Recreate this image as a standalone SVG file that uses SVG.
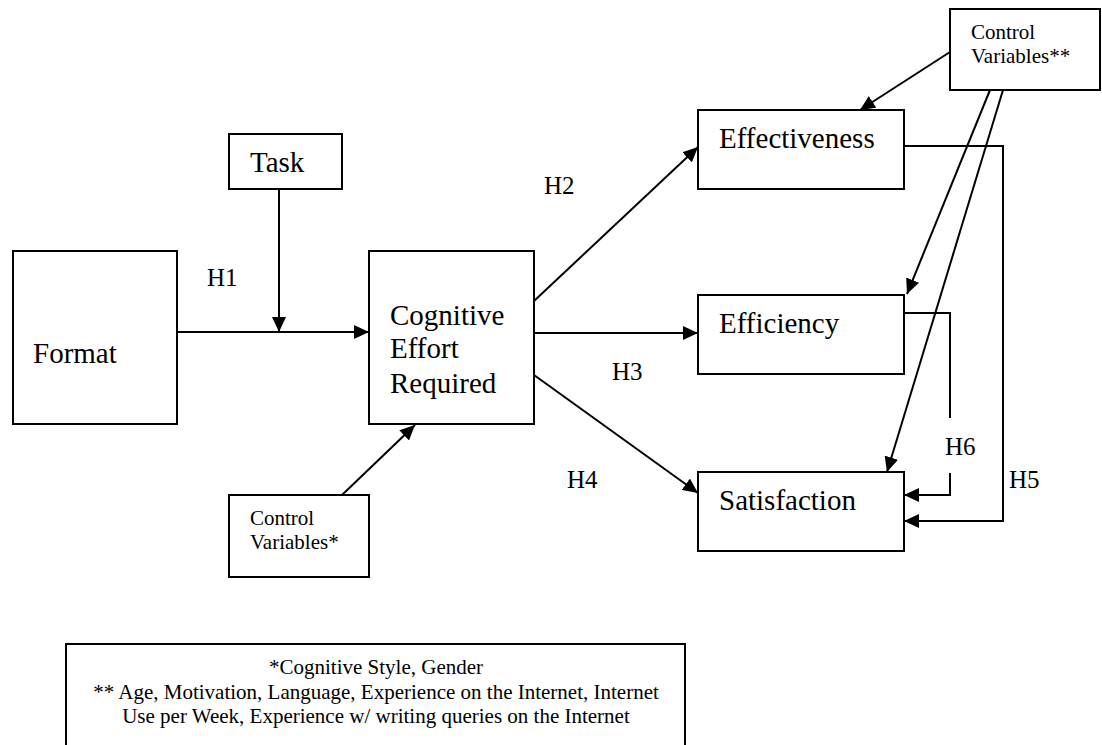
<svg xmlns="http://www.w3.org/2000/svg" width="1102" height="745" viewBox="0 0 1102 745">
  <style>
    .box { fill: #fff; stroke: #000; stroke-width: 2; }
    .edge { fill: none; stroke: #000; stroke-width: 2; }
    text { font-family: 'Liberation Serif', 'Times New Roman', serif; fill: #000; }
    .big { font-size: 29px; }
    .hyp { font-size: 25px; }
    .small { font-size: 21px; }
  </style>
  <defs>
    <marker id="arrow" markerUnits="userSpaceOnUse" markerWidth="16" markerHeight="14" refX="15" refY="7" orient="auto">
      <path d="M0,0 L15,7 L0,14 Z" fill="#000"/>
    </marker>
  </defs>
  <rect width="1102" height="745" fill="#fff"/>

  <g id="format">
    <rect class="box" x="13" y="251" width="164" height="173"/>
    <text class="big" x="33" y="363">Format</text>
  </g>

  <g id="task">
    <rect class="box" x="229" y="134" width="113" height="55"/>
    <text class="big" x="250" y="172">Task</text>
  </g>

  <g id="cognitive-effort">
    <rect class="box" x="369" y="251" width="165" height="173"/>
    <text class="big" x="390" y="325">Cognitive</text>
    <text class="big" x="390" y="358">Effort</text>
    <text class="big" x="390" y="393">Required</text>
  </g>

  <g id="control-variables-1">
    <rect class="box" x="229" y="495" width="140" height="82"/>
    <text class="small" x="250" y="525">Control</text>
    <text class="small" x="250" y="549">Variables*</text>
  </g>

  <g id="effectiveness">
    <rect class="box" x="698" y="110" width="206" height="79"/>
    <text class="big" x="719" y="148">Effectiveness</text>
  </g>

  <g id="efficiency">
    <rect class="box" x="698" y="295" width="206" height="79"/>
    <text class="big" x="719" y="333">Efficiency</text>
  </g>

  <g id="satisfaction">
    <rect class="box" x="698" y="472" width="206" height="79"/>
    <text class="big" x="719" y="510">Satisfaction</text>
  </g>

  <g id="control-variables-2">
    <rect class="box" x="950" y="9" width="150" height="81"/>
    <text class="small" x="971" y="39">Control</text>
    <text class="small" x="971" y="63">Variables**</text>
  </g>

  <g id="connectors">
    <!-- H1: Format to Cognitive Effort, moderated by Task -->
    <line class="edge" x1="177" y1="332" x2="369" y2="332" marker-end="url(#arrow)"/>
    <line class="edge" x1="279" y1="189" x2="279" y2="332" marker-end="url(#arrow)"/>
    <line class="edge" x1="342" y1="495" x2="415" y2="425" marker-end="url(#arrow)"/>
    <!-- H2 to H4 -->
    <line class="edge" x1="534" y1="301" x2="698" y2="147" marker-end="url(#arrow)"/>
    <line class="edge" x1="534" y1="333" x2="698" y2="333" marker-end="url(#arrow)"/>
    <line class="edge" x1="534" y1="375" x2="698" y2="493" marker-end="url(#arrow)"/>
    <!-- Control variables** to the three outcomes -->
    <line class="edge" x1="950" y1="52" x2="860" y2="110" marker-end="url(#arrow)"/>
    <line class="edge" x1="990" y1="90" x2="907" y2="294" marker-end="url(#arrow)"/>
    <line class="edge" x1="1003" y1="90" x2="887" y2="472" marker-end="url(#arrow)"/>
    <!-- H5: Effectiveness to Satisfaction -->
    <polyline class="edge" points="904,146 1003,146 1003,521 904,521" marker-end="url(#arrow)"/>
    <!-- H6: Efficiency to Satisfaction, broken around its label -->
    <polyline class="edge" points="904,313 950,313 950,418"/>
    <polyline class="edge" points="950,473 950,495 904,495" marker-end="url(#arrow)"/>
  </g>

  <g id="labels">
    <text class="hyp" x="207" y="286">H1</text>
    <text class="hyp" x="544" y="194">H2</text>
    <text class="hyp" x="612" y="380">H3</text>
    <text class="hyp" x="567" y="488">H4</text>
    <text class="hyp" x="1009" y="488">H5</text>
    <text class="hyp" x="945" y="455">H6</text>
  </g>

  <g id="legend">
    <polyline class="edge" points="66,746 66,644 685,644 685,746"/>
    <text class="small" text-anchor="middle" x="376" y="674">*Cognitive Style, Gender</text>
    <text class="small" text-anchor="middle" x="376" y="699">** Age, Motivation, Language, Experience on the Internet, Internet</text>
    <text class="small" text-anchor="middle" x="376" y="723">Use per Week, Experience w/ writing queries on the Internet</text>
  </g>
</svg>
